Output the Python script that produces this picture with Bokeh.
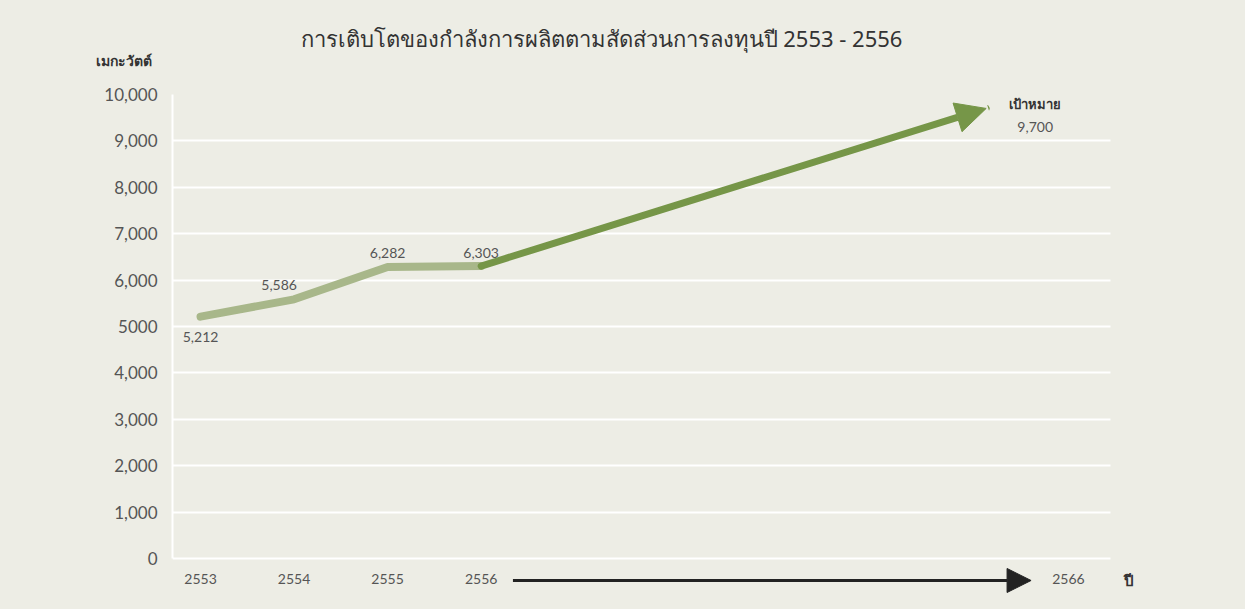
from bokeh.plotting import figure
from bokeh.models import (Range1d, FixedTicker, Arrow, NormalHead, Label, Title,
                          LinearAxis, ColumnDataSource)
from bokeh.core.properties import value
from bokeh.embed import file_html
from bokeh.resources import INLINE

# ---- data ----
years = ["2553", "2554", "2555", "2556"]
capacity = [5212, 5586, 6282, 6303]
target_year = "2566"
target_value = 9700
y_ticks = [0, 1000, 2000, 3000, 4000, 5000, 6000, 7000, 8000, 9000, 10000]
y_tick_labels = ["0", "1,000", "2,000", "3,000", "4,000", "5000", "6,000", "7,000",
                 "8,000", "9,000", "10,000"]
title_text = "การเติบโตของกำลังการผลิตตามสัดส่วนการลงทุนปี 2553 - 2556"
y_label = "เมกะวัตต์"
x_label = "ปี"
target_label = "เป้าหมาย"

# ---- layout constants ----
BG = "#EDEDE5"
LIGHT = "#A8B78A"
DARK = "#769648"
TXT = "#555555"
NUM_FONT = "Lato"
THAI_FONT = "Noto Sans"

x_idx = list(range(len(years)))
target_tick_x = 9.28
target_tip_x = 8.4
X0, X1 = -0.3, 9.73          # extent of the plotting area (grid)
AXIS_Y = -474                 # row of the year labels / time arrow

p = figure(width=1245, height=609, frame_width=968, frame_height=515,
           min_border_left=172, min_border_right=105, min_border_top=94,
           min_border_bottom=0, output_backend="svg", toolbar_location=None,
           x_range=Range1d(X0, 10.05), y_range=Range1d(-1099, 10000),
           x_axis_location=None)
p.background_fill_color = BG
p.border_fill_color = BG
p.outline_line_color = None

p.title.text = title_text
p.title.text_font = THAI_FONT
p.title.text_font_size = "22px"
p.title.text_font_style = "normal"
p.title.text_color = "#333333"
p.title.align = "left"
p.title.offset = 128
p.title.standoff = -58

p.add_layout(Title(text=y_label, align="left", offset=-77, text_font=THAI_FONT,
                   text_font_size="14px", text_font_style="bold",
                   text_color="#333333", standoff=50), "above")

# y axis
p.yaxis.ticker = FixedTicker(ticks=y_ticks)
p.yaxis.bounds = (0, 10000)
p.yaxis.major_label_overrides = {t: l for t, l in zip(y_ticks, y_tick_labels)}
p.yaxis.major_label_text_font = NUM_FONT
p.yaxis.major_label_text_font_size = "17px"
p.yaxis.major_label_text_color = TXT
p.yaxis.axis_line_color = "white"
p.yaxis.axis_line_width = 2
p.yaxis.major_tick_line_color = None
p.yaxis.major_tick_out = 0
p.yaxis.major_tick_in = 0
p.yaxis.minor_tick_line_color = None
p.yaxis.major_label_standoff = 15

# x axis (year labels) drawn at a fixed row below the grid
xt = x_idx + [target_tick_x]
xa = LinearAxis(fixed_location=AXIS_Y, ticker=FixedTicker(ticks=xt),
                major_label_overrides={t: l for t, l in zip(xt, years + [target_year])},
                major_label_text_font=NUM_FONT, major_label_text_font_size="14px",
                major_label_text_color=TXT, axis_line_color=None,
                major_tick_line_color=None, minor_tick_line_color=None,
                major_tick_out=0, major_tick_in=0, major_label_standoff=-6)
p.add_layout(xa, "below")

p.xgrid.grid_line_color = None
p.ygrid.grid_line_color = "white"
p.ygrid.grid_line_width = 2
p.ygrid.ticker = FixedTicker(ticks=y_ticks)
try:
    p.ygrid.cross_bounds = (X0, X1)
except Exception:
    p.ygrid.grid_line_color = None
    p.segment(x0=[X0] * len(y_ticks), x1=[X1] * len(y_ticks), y0=y_ticks, y1=y_ticks,
              line_color="white", line_width=2)

# historical line
p.line(x_idx, capacity, line_color=LIGHT, line_width=8, line_cap="round", line_join="round")

# target arrow
p.add_layout(Arrow(end=NormalHead(size=30, fill_color=DARK, line_color=DARK),
                   x_start=x_idx[-1], y_start=capacity[-1],
                   x_end=target_tip_x, y_end=target_value,
                   line_color=DARK, line_width=7, line_cap="round"))

# value labels
src = ColumnDataSource(dict(x=x_idx, y=capacity, t=[f"{v:,}" for v in capacity],
                            xo=[0, -15, 0, 0], yo=[20, -14, -14, -13]))
p.text(x="x", y="y", text="t", x_offset="xo", y_offset="yo", source=src,
       text_font=value(NUM_FONT), text_font_size="14px", text_color=TXT,
       text_align="center", text_baseline="middle")

p.text(x=[target_tip_x], y=[target_value], text=[target_label], x_offset=49, y_offset=-4,
       text_font=value(THAI_FONT), text_font_size="13px", text_font_style="bold",
       text_color="#333333", text_align="center", text_baseline="middle")
p.text(x=[target_tip_x], y=[target_value], text=[f"{target_value:,}"], x_offset=49, y_offset=19,
       text_font=value(NUM_FONT), text_font_size="14px", text_color=TXT,
       text_align="center", text_baseline="middle")

# black time arrow in the year row
p.add_layout(Arrow(end=NormalHead(size=24, fill_color="#222222", line_color="#222222"),
                   x_start=3.34, y_start=AXIS_Y, x_end=8.88, y_end=AXIS_Y,
                   line_color="#222222", line_width=3))

p.add_layout(Label(x=9.93, y=AXIS_Y, text=x_label, text_font=THAI_FONT,
                   text_font_size="15px", text_font_style="bold", text_color="#333333",
                   text_align="center", text_baseline="middle"))

html = file_html(p, INLINE)
html = html.replace("<head>", "<head><style>body{background:%s;}</style>" % BG, 1)
open("out.html", "w").write(html)
